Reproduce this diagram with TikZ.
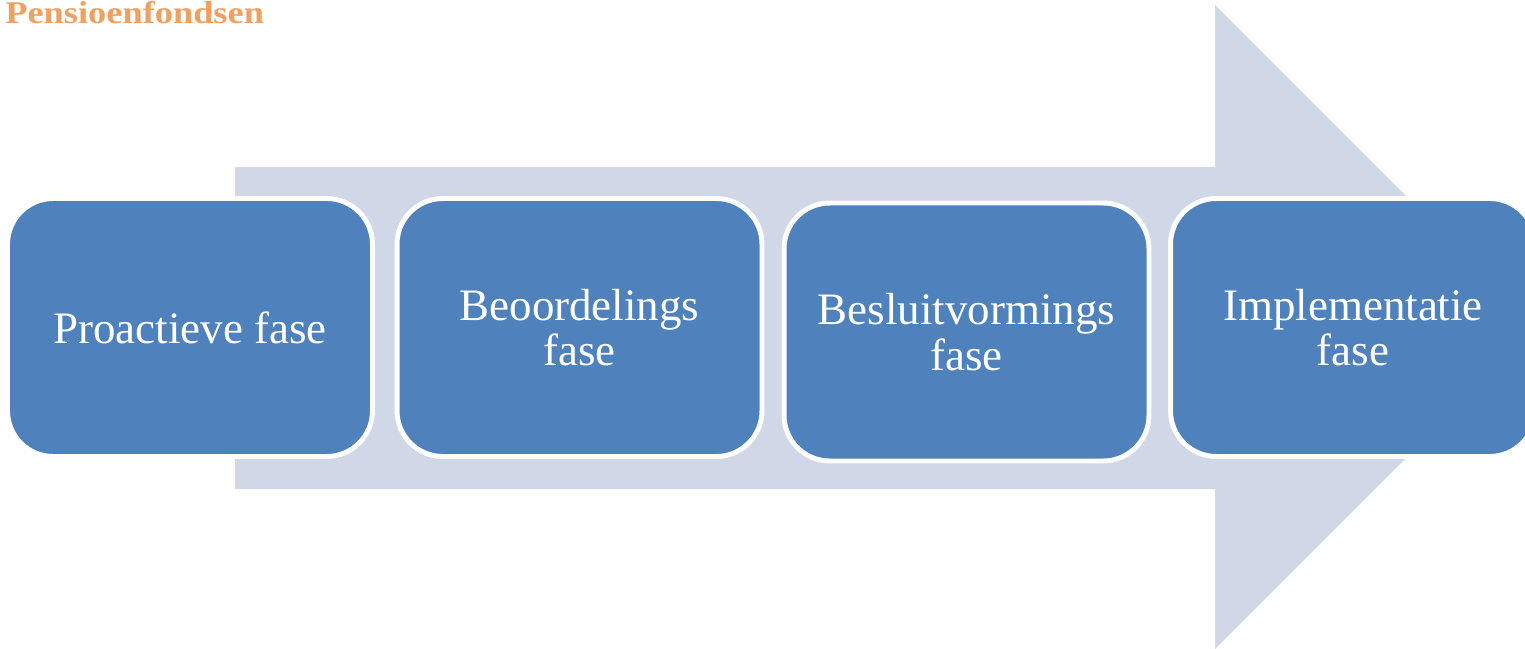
\documentclass[tikz,border=0pt]{standalone}
\usepackage{fontspec}
\setmainfont{Liberation Serif}
\newfontfamily\titelfont[FakeStretch=1.15]{Liberation Serif}
\definecolor{fasblauw}{HTML}{4F81BD}
\definecolor{pijlgrijs}{HTML}{D0D8E8}
\definecolor{titeloranje}{HTML}{F0A060}
\tikzset{
  phase/.style={draw=white, line width=2.8pt, fill=fasblauw, rounded corners=26pt,
    minimum width=7.3cm, minimum height=5.16cm, text=white, align=center,
    font=\fontsize{25.6}{26}\selectfont},
  titel/.style={anchor=base west, inner sep=0pt, text=titeloranje,
    font=\titelfont\fontsize{18}{18}\selectfont\bfseries}
}
\begin{document}
\begin{tikzpicture}[x=0.02cm, y=-0.02cm]
      \useasboundingbox (0,0) rectangle (1525,649);
      \begin{scope}
        \clip (0,0) rectangle (1525,649);
        \fill[pijlgrijs] (235,167) -- (1215,167) -- (1215,5) -- (1537,327)
          -- (1215,649) -- (1215,489) -- (235,489) -- cycle;
        \draw
          (190,327.5) node[phase] (proactief){Proactieve fase}
          (579.5,327.5) node[phase] (beoordeling){Beoordelings\\fase}
          (966.5,332) node[phase] (besluit){Besluitvormings\\fase}
          (1353,327.5) node[phase] (implementatie){Implementatie\\fase};
      \end{scope}
      \node[titel] (titel) at (5,23) {Pensioenfondsen};
    \end{tikzpicture}
\end{document}
